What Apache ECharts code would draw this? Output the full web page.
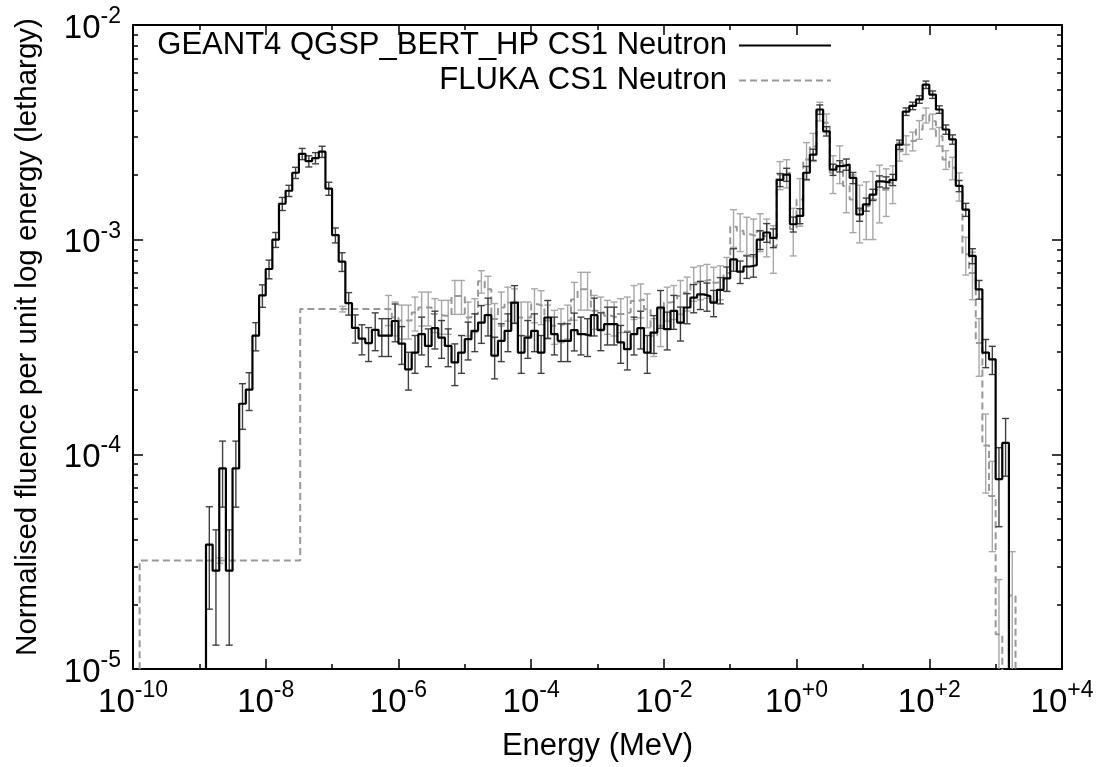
<!DOCTYPE html>
<html>
<head>
<meta charset="utf-8">
<script src="https://cdn.jsdelivr.net/npm/echarts@6/dist/echarts.min.js"></script>
<style>html,body{margin:0;padding:0;background:#fff}#c{width:1098px;height:767px}</style>
</head>
<body>
<div id="c"></div>
<script>
// ---------------- DATA ----------------
// Tick labels (powers of ten)
const xLabelExps = [-10, -8, -6, -4, -2, 0, 2, 4];
const xLabelSup  = ['-10', '-8', '-6', '-4', '-2', '+0', '+2', '+4'];
const yLabelExps = [-5, -4, -3, -2];
const yLabelSup  = ['-5', '-4', '-3', '-2'];

// GEANT4 histogram: 10 bins per decade, first bin starts at 10^-8.9 MeV
const g4FirstEdgeExp = -8.9;
const g4BinsPerDecade = 10;
const g4Fluence = [
  3.8e-5, 2.87e-5, 8.6e-5, 2.87e-5, 8.6e-5, 1.72e-4, 2.0e-4, 3.57e-4, 5.5e-4, 7.3e-4,
  1.0e-3, 1.47e-3, 1.69e-3, 2.05e-3, 2.51e-3, 2.32e-3, 2.40e-3, 2.57e-3, 1.73e-3, 1.05e-3,
  7.9e-4, 5.06e-4, 3.88e-4, 3.46e-4, 3.3e-4, 3.8e-4, 3.57e-4, 3.57e-4, 4.18e-4, 3.28e-4,
  2.49e-4, 2.98e-4, 3.63e-4, 3.2e-4, 3.87e-4, 3.5e-4, 3.2e-4, 2.68e-4, 2.98e-4, 3.44e-4,
  3.76e-4, 4.11e-4, 4.45e-4, 2.88e-4, 3.38e-4, 3.76e-4, 5.09e-4, 2.98e-4, 3.5e-4, 3.76e-4,
  2.98e-4, 4.34e-4, 3.63e-4, 3.38e-4, 3.38e-4, 3.79e-4, 3.63e-4, 3.57e-4, 4.45e-4, 3.8e-4,
  4.04e-4, 4.04e-4, 3.32e-4, 3.09e-4, 3.63e-4, 3.87e-4, 2.98e-4, 3.69e-4, 4.83e-4, 3.83e-4,
  4.66e-4, 4.11e-4, 4.83e-4, 5.37e-4, 5.56e-4, 5.46e-4, 5.09e-4, 5.84e-4, 6.6e-4, 8.1e-4,
  7.1e-4, 7.5e-4, 7.6e-4, 1.0e-3, 1.08e-3, 1.02e-3, 1.9e-3, 2.01e-3, 1.18e-3, 1.29e-3,
  2.05e-3, 2.49e-3, 4.04e-3, 3.2e-3, 2.12e-3, 2.2e-3, 2.24e-3, 1.94e-3, 1.31e-3, 1.46e-3,
  1.62e-3, 1.87e-3, 1.85e-3, 1.9e-3, 2.77e-3, 3.95e-3, 4.2e-3, 4.5e-3, 5.27e-3, 4.74e-3,
  4.04e-3, 3.26e-3, 2.93e-3, 1.78e-3, 1.38e-3, 8.4e-4, 5.87e-4, 2.98e-4, 2.77e-4, 7.67e-5,
  1.13e-4
];
// relative statistical errors of GEANT4 bins
const g4RelErr = [
  0.5, 0.55, 0.34, 0.55, 0.34, 0.24, 0.2, 0.15, 0.12, 0.1,
  0.08, 0.07, 0.06, 0.06, 0.06, 0.06, 0.06, 0.06, 0.07, 0.08,
  0.1, 0.12, 0.15, 0.16, 0.18, 0.2, 0.2, 0.2, 0.2, 0.2,
  0.2, 0.2, 0.2, 0.2, 0.2, 0.2, 0.2, 0.22, 0.2, 0.2,
  0.2, 0.2, 0.2, 0.22, 0.2, 0.2, 0.2, 0.2, 0.2, 0.2,
  0.2, 0.2, 0.2, 0.2, 0.2, 0.2, 0.2, 0.2, 0.2, 0.2,
  0.2, 0.2, 0.2, 0.2, 0.2, 0.2, 0.2, 0.2, 0.2, 0.2,
  0.18, 0.18, 0.16, 0.15, 0.15, 0.15, 0.14, 0.14, 0.13, 0.12,
  0.12, 0.12, 0.12, 0.1, 0.1, 0.1, 0.07, 0.07, 0.08, 0.08,
  0.07, 0.06, 0.05, 0.05, 0.06, 0.06, 0.06, 0.06, 0.07, 0.07,
  0.06, 0.06, 0.06, 0.06, 0.05, 0.04, 0.04, 0.04, 0.04, 0.04,
  0.04, 0.05, 0.05, 0.06, 0.07, 0.08, 0.1, 0.15, 0.15, 0.4,
  0.3
];

// FLUKA histogram: two wide low-energy bins, then 10 bins per decade from 10^-6.2 MeV
const flukaWideEdgesExp = [-9.9, -7.48];
const flukaFineFirstEdgeExp = -6.2;
const flukaBinsPerDecade = 10;
const flukaFluence = [
  3.2e-5, 4.75e-4,
  4.74e-4, 4.34e-4, 4.2e-4, 4.2e-4, 4.58e-4, 4.83e-4, 4.83e-4, 4.5e-4, 4.42e-4, 4.42e-4,
  5.47e-4, 5.47e-4, 4.34e-4, 4.5e-4, 6.4e-4, 5.87e-4, 4.27e-4, 4.83e-4, 5.09e-4, 5.0e-4,
  4.34e-4, 4.34e-4, 5.0e-4, 4.9e-4, 4.2e-4, 3.97e-4, 4.04e-4, 4.2e-4, 5.27e-4, 5.87e-4,
  5.87e-4, 4.66e-4, 4.58e-4, 4.42e-4, 4.34e-4, 4.5e-4, 4.58e-4, 5.18e-4, 5.27e-4, 4.74e-4,
  3.57e-4, 3.97e-4, 5.09e-4, 5.18e-4, 5.47e-4, 5.67e-4, 6.3e-4, 6.4e-4, 6.5e-4, 6.3e-4,
  6.4e-4, 7.0e-4, 1.15e-3, 1.1e-3, 1.06e-3, 1.04e-3, 1.1e-3, 1.04e-3, 9.3e-4, 2.01e-3,
  2.05e-3, 1.12e-3, 1.54e-3, 2.36e-3, 2.72e-3, 3.97e-3, 3.5e-3, 2.05e-3, 2.28e-3, 1.78e-3,
  1.54e-3, 1.38e-3, 1.43e-3, 1.54e-3, 1.71e-3, 1.71e-3, 1.84e-3, 2.58e-3, 2.77e-3, 2.88e-3,
  3.26e-3, 3.8e-3, 3.56e-3, 3.03e-3, 2.36e-3, 2.16e-3, 1.78e-3, 8.55e-4, 7.0e-4, 3.3e-4,
  1.1e-4, 6.4e-5, 1.45e-5, 0, 2.2e-5
];
const flukaRelErr = [
  0.03, 0.03,
  0.16, 0.18, 0.18, 0.18, 0.18, 0.18, 0.18, 0.18, 0.18, 0.18,
  0.18, 0.18, 0.18, 0.18, 0.12, 0.15, 0.18, 0.18, 0.18, 0.18,
  0.18, 0.18, 0.18, 0.18, 0.18, 0.18, 0.18, 0.18, 0.2, 0.2,
  0.2, 0.18, 0.18, 0.18, 0.18, 0.18, 0.18, 0.18, 0.18, 0.18,
  0.2, 0.2, 0.18, 0.18, 0.18, 0.18, 0.18, 0.18, 0.18, 0.18,
  0.18, 0.18, 0.2, 0.2, 0.2, 0.2, 0.2, 0.2, 0.25, 0.15,
  0.15, 0.25, 0.25, 0.2, 0.15, 0.1, 0.1, 0.2, 0.2, 0.25,
  0.3, 0.3, 0.3, 0.35, 0.3, 0.25, 0.2, 0.1, 0.1, 0.1,
  0.1, 0.08, 0.08, 0.1, 0.1, 0.12, 0.15, 0.2, 0.25, 0.3,
  0.4, 0.45, 0.8, 0, 0.6
];

const seriesNames = ['GEANT4 QGSP_BERT_HP CS1 Neutron', 'FLUKA CS1 Neutron'];

// ---------------- BUILD ----------------
const FLOOR = 1e-7; // below the axis range -> clipped
function gridEdges(firstExp, perDecade, count) {
  const e = [];
  for (let k = 0; k <= count; k++) e.push(Math.round((firstExp + k / perDecade) * 1000) / 1000);
  return e;
}
const g4Edges = gridEdges(g4FirstEdgeExp, g4BinsPerDecade, g4Fluence.length);
const flukaEdges = flukaWideEdgesExp.concat(
  gridEdges(flukaFineFirstEdgeExp, flukaBinsPerDecade, flukaFluence.length - flukaWideEdgesExp.length));

function stepPoints(edges, vals) {
  const pts = [[Math.pow(10, edges[0]), FLOOR]];
  vals.forEach((v, i) => pts.push([Math.pow(10, edges[i]), v > 0 ? v : FLOOR]));
  pts.push([Math.pow(10, edges[vals.length]), FLOOR]);
  return pts;
}
function errPoints(edges, vals, rel) {
  const out = [];
  vals.forEach((v, i) => {
    if (v > 0) out.push([Math.pow(10, (edges[i] + edges[i + 1]) / 2), v, rel[i]]);
  });
  return out;
}
function errRender(color) {
  return function (params, api) {
    const x = api.value(0), v = api.value(1), r = api.value(2);
    const lo = Math.max(v * (1 - r), FLOOR), hi = v * (1 + r);
    const a = api.coord([x, lo]), b = api.coord([x, hi]);
    const c = 3.5;
    const st = { stroke: color, lineWidth: 1.4 };
    return { type: 'group', children: [
      { type: 'line', shape: { x1: a[0], y1: a[1], x2: b[0], y2: b[1] }, style: st },
      { type: 'line', shape: { x1: a[0] - c, y1: a[1], x2: a[0] + c, y2: a[1] }, style: st },
      { type: 'line', shape: { x1: b[0] - c, y1: b[1], x2: b[0] + c, y2: b[1] }, style: st }
    ]};
  };
}

const FONT = 'Liberation Sans';
const supRich = {
  b: { fontSize: 33, fontFamily: FONT, color: '#000', lineHeight: 40, verticalAlign: 'bottom' },
  e: { fontSize: 23, fontFamily: FONT, color: '#000', lineHeight: 24, verticalAlign: 'top' }
};
function xLab(v) {
  const e = Math.round(Math.log10(v));
  const i = xLabelExps.indexOf(e);
  return i < 0 ? '' : '{b|10}{e|' + xLabelSup[i] + '}';
}
function yLab(v) {
  const e = Math.round(Math.log10(v));
  const i = yLabelExps.indexOf(e);
  return i < 0 ? '' : '{b|10}{e|' + yLabelSup[i] + '}';
}
const lineCol = { color: '#000', width: 2 };
function xAx(pos, interval, tickLen, withLabel, withLine) {
  return {
    type: 'log', logBase: 10, position: pos, min: 1e-10, max: 1e4, interval: interval,
    axisLine: { show: withLine, onZero: false, lineStyle: lineCol },
    axisTick: { show: true, inside: true, length: tickLen, lineStyle: { color: '#000', width: 1.5 } },
    axisLabel: withLabel ? { show: true, margin: 10, formatter: xLab, rich: supRich } : { show: false },
    splitLine: { show: false },
    name: withLabel ? 'Energy (MeV)' : '', nameLocation: 'middle', nameGap: 62,
    nameTextStyle: { fontFamily: FONT, fontSize: 31, color: '#000' }
  };
}
function yAx(pos, withLabel) {
  return {
    type: 'log', logBase: 10, position: pos, min: 1e-5, max: 1e-2, interval: 1,
    axisLine: { show: true, onZero: false, lineStyle: lineCol },
    axisTick: { show: true, inside: true, length: 10, lineStyle: { color: '#000', width: 1.5 } },
    minorTick: { show: true, splitNumber: 9, length: 5, lineStyle: { color: '#000', width: 1.5 } },
    axisLabel: withLabel ? { show: true, margin: 12, formatter: yLab, rich: supRich } : { show: false },
    splitLine: { show: false }, minorSplitLine: { show: false },
    name: withLabel ? 'Normalised fluence per unit log energy (lethargy)' : '',
    nameLocation: 'middle', nameGap: 90, nameRotate: 90,
    nameTextStyle: { fontFamily: FONT, fontSize: 29.5, color: '#000', padding: [0, 0, 0, 20] }
  };
}

const legendBase = {
  right: 266, orient: 'vertical', align: 'right', padding: 0,
  itemWidth: 92, itemHeight: 14,
  itemStyle: { opacity: 0 },
  textStyle: { fontFamily: FONT, fontSize: 31, color: '#000', padding: [0, 7, 0, 0] }
};

const chart = echarts.init(document.getElementById('c'), null, { renderer: 'canvas' });
chart.setOption({
  animation: false,
  backgroundColor: '#fff',
  grid: { left: 133, right: 36, top: 25, bottom: 97 },
  xAxis: [
    xAx('bottom', 2, 10, true, true),
    xAx('bottom', 1, 5, false, false),
    xAx('top', 2, 10, false, true),
    xAx('top', 1, 5, false, false)
  ],
  yAxis: [yAx('left', true), yAx('right', false)],
  legend: [
    Object.assign({}, legendBase, { data: [seriesNames[0]], top: 30 }),
    Object.assign({}, legendBase, { data: [seriesNames[1]], top: 65 })
  ],
  series: [
    { type: 'custom', name: 'flukaErr', xAxisIndex: 0, yAxisIndex: 0, clip: true,
      renderItem: errRender('#a8a8a8'), encode: { x: 0, y: 1 }, data: errPoints(flukaEdges, flukaFluence, flukaRelErr), z: 2 },
    { type: 'line', name: seriesNames[1], xAxisIndex: 0, yAxisIndex: 0, step: 'end', symbol: 'none', showSymbol: false,
      clip: true, lineStyle: { color: '#999999', width: 2, type: [7, 4] }, itemStyle: { color: '#999999' },
      data: stepPoints(flukaEdges, flukaFluence), z: 3 },
    { type: 'custom', name: 'g4Err', xAxisIndex: 0, yAxisIndex: 0, clip: true,
      renderItem: errRender('#404040'), encode: { x: 0, y: 1 }, data: errPoints(g4Edges, g4Fluence, g4RelErr), z: 4 },
    { type: 'line', name: seriesNames[0], xAxisIndex: 0, yAxisIndex: 0, step: 'end', symbol: 'none', showSymbol: false,
      clip: true, lineStyle: { color: '#000000', width: 2.2 }, itemStyle: { color: '#000000' },
      data: stepPoints(g4Edges, g4Fluence), z: 5 }
  ]
});
</script>
</body>
</html>
